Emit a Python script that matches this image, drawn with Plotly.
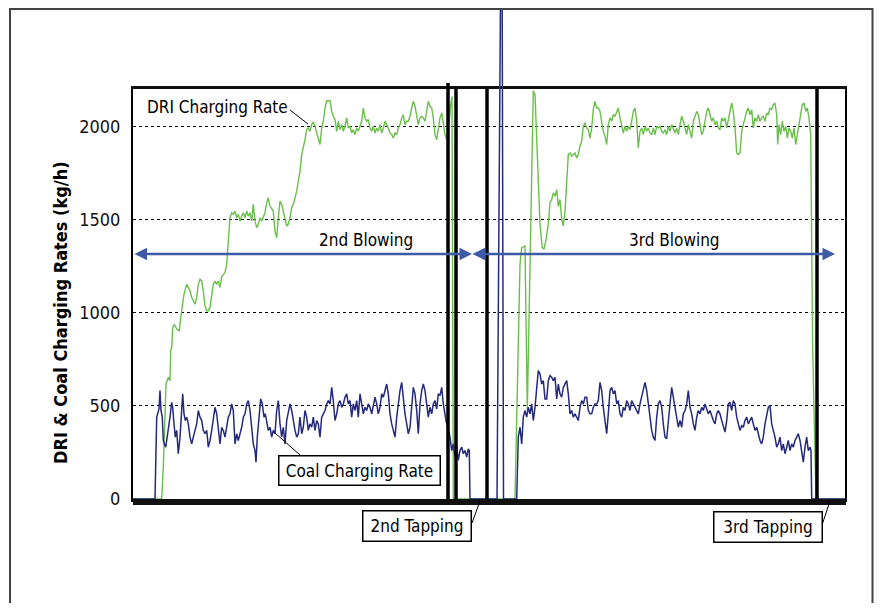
import plotly.graph_objects as go

# ---------------- data (time in arbitrary units along the run) ----------------
dri_t = [0, 28.7, 30.3, 32, 33, 35.3, 37, 37.7, 38.7, 39.7, 41.3, 43.7, 46.3, 47.7, 49.7, 51, 53.7, 55.3, 57, 58.7,
         60.3, 62, 63.7, 65.3, 67, 68.7, 70.3, 72, 73.7, 75.3, 77, 78.7, 80.3, 82, 83.7, 85.3, 87, 88.7, 90.3, 92,
         93.7, 94.7, 96, 97, 98.7, 100.3, 102, 103.7, 105.3, 107, 108.7, 110.3, 112, 113.7, 115.3, 117, 118.7, 120.3, 122, 123.7,
         125.3, 127, 128.7, 130.3, 132, 133.7, 135.3, 137, 138.7, 140.3, 142, 143.7, 145.3, 147, 148.7, 150.3, 152, 153.7, 155.3, 157,
         158.7, 160.3, 162, 163.7, 165.3, 167, 168.7, 170.3, 172, 173.7, 175.3, 177, 178.7, 180.3, 182, 183.7, 185.3, 187, 188.7, 190.3,
         192, 193.7, 197, 198.7, 200.3, 202, 203.7, 205.3, 207, 208.7, 210.3, 212, 213.7, 215.3, 217, 218.7, 220.3, 222, 223.7, 225.3,
         227, 228.7, 230.3, 232, 233.7, 235.3, 237, 238.7, 240.3, 242, 243.7, 245.3, 247, 248.7, 250.3, 252, 253.7, 255.3, 257, 258.7,
         260.3, 262, 263.7, 265.3, 267, 268.7, 270.3, 272, 273.7, 275.3, 277, 278.7, 280.3, 282, 283.7, 285.3, 287, 288.7, 290.3, 292,
         293.7, 295.3, 297, 298.7, 300.3, 302, 303.7, 305.3, 307, 308.7, 310.3, 312, 313.7, 316.3, 317.7, 319, 320.3, 382, 387, 388.7,
         392, 394.3, 400.3, 402, 407, 409.3, 411, 413, 415.3, 417, 418.7, 420.3, 422, 423.7, 425.3, 427, 428.7, 430.3,
         432, 433.7, 435.3, 437, 438.7, 440.3, 442, 443.7, 445.3, 447, 448.7, 450.3, 452, 453.7, 455.3, 457, 458.7, 460.3, 462, 463.7,
         465.3, 467, 468.7, 470.3, 472, 473.7, 475.3, 477, 478.7, 480.3, 482, 483.7, 485.3, 487, 488.7, 490.3, 492, 493.7, 495.3, 497,
         498.7, 500.3, 502, 503.7, 505.3, 507, 508.7, 510.3, 512, 513.7, 515.3, 517, 518.7, 520.3, 522, 523.7, 525.3, 527, 528.7, 530.3,
         532, 533.7, 535.3, 537, 538.7, 540.3, 542, 543.7, 545.3, 547, 548.7, 550.3, 552, 553.7, 555.3, 557, 558.7, 560.3, 562, 563.7,
         565.3, 567, 568.7, 570.3, 572, 573.7, 575.3, 578.7, 580.3, 582, 583.7, 585.3, 587, 588.7, 590.3, 592, 593.7, 595.3, 597, 598.7,
         600.3, 602, 603.7, 605.3, 607, 608.7, 610.3, 612, 613.7, 615.3, 617, 618.7, 620.3, 622, 623.7, 625.3, 627, 628.7, 630.3, 632,
         633.7, 635.3, 637, 638.7, 640.3, 642, 643.7, 644.7, 646, 647.7, 649.3, 651, 652.7, 654.3, 656, 657.7, 659.3, 661, 662.7, 664.3,
         666, 667.7, 669.3, 671, 672.7, 674.3, 676, 677.7, 678.7, 679.7, 683, 712]
dri_rate = [0, 0, 171, 439, 617, 653, 635, 796, 813, 920, 938, 912, 903, 974, 1063, 1099, 1152, 1135, 1117, 1081,
            1063, 1045, 1081, 1152, 1179, 1170, 1117, 1036, 1010, 1010, 1028, 1081, 1152, 1170, 1152, 1170, 1135, 1192, 1206, 1215,
            1260, 1331, 1438, 1509, 1536, 1527, 1545, 1509, 1527, 1491, 1518, 1536, 1509, 1545, 1518, 1536, 1491, 1581, 1491, 1456,
            1474, 1509, 1491, 1518, 1536, 1590, 1616, 1572, 1554, 1545, 1438, 1402, 1509, 1598, 1581, 1545, 1509, 1465, 1474, 1509,
            1563, 1581, 1616, 1652, 1705, 1759, 1848, 1884, 1928, 1982, 1991, 1973, 2009, 2023, 2000, 1964, 1937, 1902, 1991, 2027,
            2098, 2137, 2137, 2080, 2054, 2036, 1973, 2027, 1982, 2009, 1973, 2000, 2045, 1991, 2000, 1964, 1982, 1955, 1991, 1973,
            2000, 2027, 2098, 2045, 2027, 2036, 1991, 1973, 2000, 1964, 1991, 1973, 2009, 1964, 1991, 2027, 2009, 1982, 1964, 1955,
            1937, 1964, 1955, 1991, 2009, 2045, 2062, 2009, 2027, 2027, 2054, 2098, 2134, 2107, 2045, 2009, 2045, 2054, 2045, 2027,
            2080, 2134, 2107, 2098, 2045, 1955, 1928, 1991, 2045, 2072, 2009, 1955, 1928, 2027, 2116, 2160, 0, 0, 1260, 1349,
            1357, 475, 2190, 2170, 1474, 1349, 1340, 1390, 1474, 1590, 1607, 1643, 1625, 1660, 1570, 1607, 1500, 1465,
            1545, 1688, 1848, 1857, 1839, 1848, 1857, 1830, 1848, 1893, 1920, 2000, 2018, 1991, 1982, 1937, 1991, 2089, 2134, 2098,
            2098, 2080, 2027, 1973, 1946, 1902, 2009, 2045, 2027, 2062, 2054, 2080, 2098, 2045, 2009, 1964, 2000, 1973, 2000, 1982,
            2027, 2080, 2098, 2027, 1884, 1973, 1991, 1955, 2000, 1973, 1991, 1964, 1955, 1991, 1955, 2000, 1991, 2000, 1973, 1964,
            1982, 1955, 2000, 1973, 2009, 1982, 1964, 1991, 1955, 2009, 2054, 2027, 1991, 1955, 2009, 1964, 1937, 2027, 2054, 2080,
            2062, 2009, 1955, 1973, 2027, 2080, 2098, 2027, 2045, 2009, 2027, 1991, 1982, 2045, 2027, 2045, 1991, 2036, 2080, 2125,
            2080, 1991, 1857, 1848, 1857, 1973, 2009, 2045, 2080, 2098, 2062, 2089, 1991, 2045, 2027, 2062, 2027, 2045, 2054, 2027,
            2071, 2062, 2098, 2089, 2116, 2125, 2062, 1902, 2009, 1955, 2027, 1973, 2000, 1937, 1991, 1973, 1937, 1991, 1902, 1955,
            2009, 2062, 2116, 2125, 2080, 2098, 2045, 1955, 1509, 795, 0, 0]

coal_t = [0, 22, 23.7, 24.7, 26, 27, 28, 29.3, 30.3, 31.3, 32.7, 33.7, 34.7, 36, 37, 38.7, 39.7, 41, 42.3, 43.7,
          45.3, 47, 48.7, 49.7, 51, 52.3, 53.7, 55.3, 57, 58.7, 60.3, 62, 63.7, 65.3, 67, 68.7, 70.3, 72, 73.7, 75.3,
          77, 78.7, 80.3, 82, 83.7, 85.3, 87, 88.7, 90.3, 92, 93.7, 95.3, 97, 98.7, 100.3, 102, 103.7, 105.3, 107, 108.7,
          110.3, 112, 113.7, 115.3, 117, 118.7, 120.3, 122, 123, 124.3, 126, 127.7, 129.3, 131, 132.3, 133.7, 135.3, 137, 138.7, 140.3,
          142, 143.7, 145.3, 147, 148.7, 150.3, 152, 153.7, 155.3, 157, 158.7, 160.3, 162, 163.7, 165.3, 167, 168.7, 170.3, 172, 173.7,
          175.3, 177, 178.7, 180.3, 182, 183.7, 185.3, 187, 188.7, 190.3, 192, 193.7, 195.3, 197, 198.7, 200.3, 202, 203.7, 205.3, 207,
          208.7, 210.3, 212, 213.7, 215.3, 217, 218.7, 220.3, 222, 223.7, 225.3, 227, 228.7, 230.3, 232, 233.7, 235.3, 237, 238.7, 240.3,
          242, 243.7, 245.3, 247, 248.7, 250.3, 252, 253.7, 255.3, 257, 258.7, 260.3, 262, 263.7, 265.3, 267, 268.7, 270.3, 272, 273.7,
          275.3, 277, 278.7, 280.3, 282, 283.7, 285.3, 287, 288.7, 290.3, 292, 293.7, 295.3, 297, 298.7, 300.3, 302, 303.7, 305.3, 307,
          308.7, 310.3, 312, 313, 317, 318.7, 320.3, 322, 323.7, 325.3, 327, 328.7, 330.3, 332, 333.7, 335.3, 336.3, 337, 364, 368.7,
          370.5, 383.7, 385.3, 387, 388.7, 390.3, 392, 393.7, 395.3, 397, 398.7, 400.3, 402, 403.7, 405.3, 407, 408.7, 410.3, 412, 413.7,
          415.3, 417, 418.7, 420.3, 422, 423.7, 425.3, 427, 428.7, 430.3, 432, 433.7, 435.3, 437, 438.7, 440.3, 442, 443.7, 445.3, 447,
          448.7, 450.3, 452, 453.7, 455.3, 457, 458.7, 460.3, 462, 463.7, 465.3, 467, 468.7, 470.3, 472, 473.7, 475.3, 477, 478.7, 480.3,
          482, 483.7, 485.3, 487, 488.7, 490.3, 492, 493.7, 495.3, 497, 498.7, 500.3, 502, 503.7, 505.3, 507, 508.7, 510.3, 512, 513.7,
          515.3, 517, 518.7, 520.3, 522, 523.7, 525.3, 527, 528.7, 530.3, 532, 533.7, 535.3, 537, 538.7, 540.3, 542, 543.7, 545.3, 547,
          548.7, 550.3, 552, 553.7, 555.3, 557, 558.7, 560.3, 562, 563.7, 565.3, 567, 568.7, 570.3, 572, 573.7, 575.3, 577, 578.7, 580.3,
          582, 583.7, 585.3, 587, 588.7, 590.3, 592, 593.7, 595.3, 597, 598.7, 600.3, 602, 603.7, 605.3, 607, 608.7, 610.3, 612, 613.7,
          615.3, 617, 618.7, 620.3, 622, 623.7, 625.3, 627, 628.7, 630.3, 632, 633.7, 635.3, 637, 638.7, 640.3, 642, 643.7, 645.3, 647,
          648.7, 650.3, 652, 653.7, 655.3, 657, 658.7, 660.3, 662, 663.7, 665.3, 667, 668.7, 670.3, 672, 673.7, 675.3, 677, 678, 678.7, 712]
coal_rate = [0, 0, 439, 457, 483, 582, 475, 439, 314, 296, 278, 314, 350, 385, 439, 519, 492, 403, 332, 368,
             243, 332, 510, 564, 457, 421, 439, 403, 332, 296, 332, 368, 403, 475, 439, 421, 368, 350, 368, 278,
             314, 368, 439, 492, 457, 368, 296, 385, 368, 332, 385, 439, 457, 510, 475, 296, 350, 314, 350, 385,
             439, 457, 510, 528, 475, 368, 296, 260, 198, 332, 439, 537, 510, 439, 457, 403, 368, 385, 332, 368,
             350, 475, 528, 403, 332, 385, 296, 421, 457, 510, 475, 421, 368, 332, 350, 439, 350, 385, 475, 439,
             368, 403, 385, 439, 368, 421, 403, 332, 439, 457, 475, 510, 528, 510, 599, 528, 421, 457, 510, 528,
             492, 510, 546, 564, 510, 528, 439, 510, 475, 528, 439, 564, 510, 457, 492, 475, 510, 492, 457, 510,
             546, 510, 457, 492, 564, 546, 582, 617, 564, 457, 403, 368, 332, 439, 528, 582, 626, 528, 457, 403,
             350, 385, 510, 599, 564, 475, 350, 510, 582, 617, 582, 510, 439, 492, 457, 510, 528, 483, 564, 555,
             599, 510, 439, 421, 332, 260, 296, 225, 278, 207, 260, 278, 243, 260, 225, 269, 260, 0, 0, 3600,
             0, 0, 332, 385, 296, 439, 475, 439, 492, 457, 510, 421, 492, 582, 689, 671, 617, 635, 537, 537,
             635, 662, 653, 635, 653, 537, 617, 564, 546, 599, 620, 635, 564, 457, 475, 439, 457, 439, 421, 492,
             528, 510, 546, 546, 475, 457, 457, 492, 510, 510, 528, 626, 582, 492, 421, 350, 457, 582, 599, 564,
             582, 510, 528, 457, 439, 492, 475, 528, 510, 475, 528, 510, 492, 475, 457, 510, 546, 582, 626, 582,
             510, 421, 368, 332, 314, 439, 510, 528, 492, 403, 332, 323, 439, 510, 599, 546, 475, 439, 385, 421,
             385, 457, 475, 510, 582, 492, 457, 403, 368, 439, 475, 457, 492, 475, 510, 483, 457, 475, 439, 421,
             403, 457, 475, 457, 421, 385, 359, 421, 510, 519, 475, 528, 510, 439, 403, 368, 394, 385, 421, 439,
             403, 421, 439, 403, 368, 385, 350, 314, 296, 332, 403, 457, 492, 501, 403, 368, 332, 278, 296, 332,
             260, 296, 243, 278, 314, 260, 296, 278, 314, 332, 350, 314, 260, 198, 278, 332, 260, 278, 260, 0, 0]

# tapping / event markers (start & end of tapping periods)
event_t = [315, 323, 354, 684]
event_top = [2232, 2200, 2200, 2200]

# blowing periods (double arrows)
blow_labels = ["2nd Blowing", "3rd Blowing"]
blow_start = [0, 338]
blow_end = [339, 702]
blow_level = 1315

y_ticks = [0, 500, 1000, 1500, 2000]

# ---------------- layout geometry ----------------
# the page adds an 8 px body margin, so the figure is laid out 8 px up/left
# and kept small enough that the page never scrolls
OFF = 8
W, H = 882 - 2 * OFF, 611 - 2 * OFF
L, R, T, B = 133 - OFF, 845 - OFF, 0, 499 - OFF
MAIN_TOP = 89 - OFF
main_frac = (B - MAIN_TOP) / (B - T)
Y_MAX = 2200
Y2_MAX = Y_MAX / main_frac


def pxx(p):  # reference pixel x -> paper
    return (p - OFF - L) / (R - L)


def pxy(p):  # reference pixel y -> paper
    return (B - (p - OFF)) / (B - T)


FONT = "DejaVu Sans Condensed, Liberation Sans Narrow, sans-serif"
GREEN = "#6abf4b"
NAVY = "#262a7c"
ARROW = "#3c5aa6"
LBL = 17

fig = go.Figure()

fig.add_trace(go.Scatter(x=dri_t, y=dri_rate, mode="lines", yaxis="y2",
                         line=dict(color=GREEN, width=1.4), name="DRI Charging Rate"))
fig.add_trace(go.Scatter(x=coal_t, y=coal_rate, mode="lines", yaxis="y2",
                         line=dict(color=NAVY, width=1.5), name="Coal Charging Rate"))
for t, top in zip(event_t, event_top):
    fig.add_trace(go.Scatter(x=[t, t], y=[0, top], mode="lines", yaxis="y2",
                             line=dict(color="black", width=3.5), showlegend=False, hoverinfo="skip"))


def label(text, x, y, size=LBL, **kw):
    d = dict(text=text, xref="paper", yref="paper", x=pxx(x), y=pxy(y), xanchor="center",
             yanchor="middle", showarrow=False, font=dict(family=FONT, size=size, color="black"))
    d.update(kw)
    return d


annotations = [
    label("DRI & Coal Charging Rates (kg/h)", 60, 313, textangle=-90,
          font=dict(family=FONT, size=18, color="black", weight="bold")),
    label("DRI Charging Rate", 217.5, 107),
    label("Coal Charging Rate", 359.5, 470.5, bordercolor="black", borderwidth=1.5, borderpad=0,
          bgcolor="white", width=160, height=28),
    label("2nd Tapping", 417, 526, bordercolor="black", borderwidth=1.5, borderpad=0,
          bgcolor="white", width=107, height=29),
    label("3rd Tapping", 768, 527, bordercolor="black", borderwidth=1.5, borderpad=0,
          bgcolor="white", width=107, height=29),
    label(blow_labels[0], 366, 240),
    label(blow_labels[1], 674, 240),
]
for s, e in zip(blow_start, blow_end):
    annotations.append(dict(text="", x=e, y=blow_level, ax=s, ay=blow_level, xref="x", yref="y",
                            axref="x", ayref="y", showarrow=True, arrowhead=2, startarrowhead=2,
                            arrowside="end+start", arrowsize=1, arrowwidth=2.5, arrowcolor=ARROW,
                            standoff=0, startstandoff=0))

shapes = [
    # outer frame (right edge kept inside the page)
    dict(type="rect", xref="paper", yref="paper", x0=pxx(10), x1=pxx(872.5), y0=pxy(660), y1=pxy(9),
         line=dict(color="#444444", width=2), fillcolor="rgba(0,0,0,0)", layer="above"),
]
leaders = [((290, 110), (308, 124)), ((300, 455), (275, 433)), ((472, 523), (480, 501)), ((822, 525), (830, 501))]
for (a, b) in leaders:
    shapes.append(dict(type="line", xref="paper", yref="paper", x0=pxx(a[0]), y0=pxy(a[1]),
                       x1=pxx(b[0]), y1=pxy(b[1]), line=dict(color="black", width=1)))

fig.update_layout(
    width=W, height=H,
    margin=dict(l=L, r=W - R, t=T, b=H - B, pad=0),
    paper_bgcolor="white", plot_bgcolor="rgba(0,0,0,0)",
    showlegend=False,
    font=dict(family=FONT, color="black"),
    xaxis=dict(range=[0, 712], showgrid=False, zeroline=False, showticklabels=False,
               showline=True, linecolor="#111111", linewidth=3, mirror=True,
               ticks="outside", ticklen=3, tickwidth=1, tickcolor="#111111", dtick=1, tick0=0,
               anchor="y"),
    yaxis=dict(domain=[0, main_frac], range=[0, Y_MAX], tickvals=y_ticks,
               showgrid=True, gridcolor="black", gridwidth=1, griddash="3px,3px",
               zeroline=False, showline=True, linecolor="black", linewidth=2, mirror=True,
               ticks="", ticklabelstandoff=7,
               tickfont=dict(family=FONT, size=18, color="#111111")),
    yaxis2=dict(domain=[0, 1], range=[0, Y2_MAX], visible=False, anchor="x",
                showgrid=False, zeroline=False),
    annotations=annotations,
    shapes=shapes,
)

fig.write_html("out.html")
